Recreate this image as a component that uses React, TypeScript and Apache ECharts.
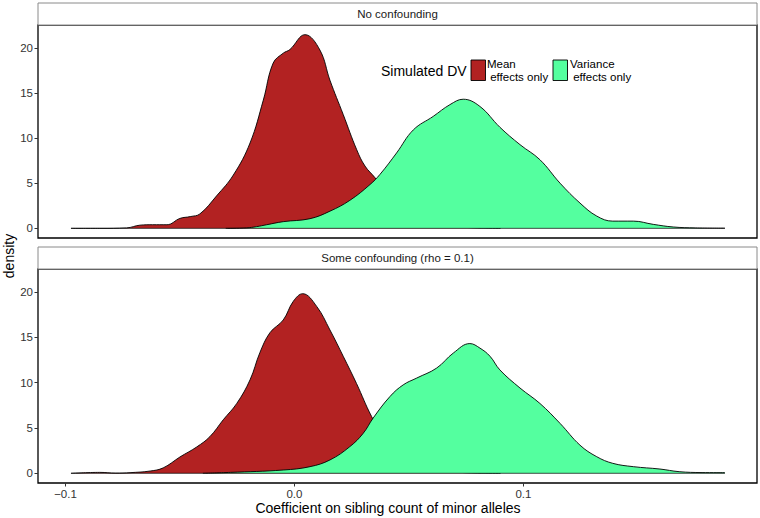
import React, { useEffect, useRef } from "react";
import * as echarts from "echarts";

// ---------- data ----------
const panelTitles = ["No confounding", "Some confounding (rho = 0.1)"];
const groupLabels = ["Mean\n effects only", "Variance\n effects only"];
const legendTitle = "Simulated DV";
const xTicks = [-0.1, 0.0, 0.1];
const yTicks = [0, 5, 10, 15, 20];

// Panel 1: No confounding
const meanTopX = [-0.0976, -0.085, -0.0733, -0.0675, -0.062, -0.0557, -0.05, -0.0455, -0.0413, -0.034, -0.0267, -0.0194, -0.0136, -0.0093, -0.0049, -0.002, 0.0046, 0.0111, 0.0155, 0.0213, 0.0272, 0.0308, 0.0352, 0.04, 0.05, 0.06, 0.07, 0.08, 0.09];
const meanTopD = [0, 0.0, 0.05, 0.35, 0.4, 0.4, 1.1, 1.3, 1.6, 3.6, 5.9, 9.45, 14.2, 18.3, 19.4, 19.8, 21.45, 19.75, 16.4, 12.6, 8.7, 6.9, 5.6, 4.0, 1.8, 0.6, 0.2, 0.05, 0];
const varTopX = [-0.03, -0.021, -0.0165, -0.0121, -0.0049, 0.0068, 0.0155, 0.0242, 0.033, 0.0373, 0.0446, 0.0519, 0.0606, 0.0679, 0.0737, 0.081, 0.0897, 0.0985, 0.1072, 0.116, 0.1247, 0.132, 0.139, 0.148, 0.1567, 0.1654, 0.175, 0.188];
const varTopD = [0, 0.05, 0.19, 0.4, 0.74, 1.07, 1.9, 3.1, 4.85, 5.96, 8.35, 10.9, 12.4, 13.7, 14.3, 13.5, 11.2, 9.27, 7.6, 5.0, 2.8, 1.36, 0.8, 0.8, 0.44, 0.15, 0.05, 0.02];

// Panel 2: Some confounding (rho = 0.1)
const meanBotX = [-0.0976, -0.085, -0.078, -0.0718, -0.063, -0.0573, -0.05, -0.0427, -0.0369, -0.0311, -0.0252, -0.0194, -0.0151, -0.0107, -0.0049, -0.0005, 0.0036, 0.0097, 0.0155, 0.0213, 0.0271, 0.0337, 0.04, 0.05, 0.06, 0.07, 0.08, 0.09];
const meanBotD = [0, 0.1, 0.02, 0.07, 0.25, 0.6, 1.8, 2.9, 4.05, 5.9, 7.7, 10.3, 13.3, 15.5, 16.9, 18.96, 19.8, 18.4, 15.8, 12.9, 9.9, 6.25, 3.6, 1.5, 0.5, 0.15, 0.03, 0];
const varBotX = [-0.04, -0.028, -0.0049, 0.0068, 0.0155, 0.0242, 0.03, 0.0344, 0.0417, 0.0475, 0.0534, 0.0621, 0.0694, 0.0766, 0.081, 0.0854, 0.0897, 0.0985, 0.1072, 0.116, 0.1247, 0.132, 0.139, 0.148, 0.1596, 0.168, 0.178, 0.188];
const varBotD = [0, 0.1, 0.36, 0.73, 1.47, 2.94, 4.4, 6.1, 8.46, 9.75, 10.5, 11.6, 13.26, 14.3, 13.8, 12.9, 11.4, 9.4, 7.7, 5.5, 3.1, 1.83, 1.1, 0.73, 0.47, 0.18, 0.08, 0.07];

// ---------- styles ----------
const FONT = "'Liberation Sans', Helvetica, Arial, sans-serif";
const RED = "#B22222";
const GREEN = "#54FF9F";
const X_MIN = -0.112;
const X_MAX = 0.202;
const Y_MIN = -1.07;
const Y_MAX = 22.52;

const pairs = (xs: number[], ds: number[]) => xs.map((x, i) => [x, ds[i]]);
const fmtX = (v: number) => {
  const s = Math.abs(v).toFixed(1);
  return v < -1e-9 ? "\u2212" + s : s;
};

const grids = [
  { left: 38, top: 25, width: 719, height: 213 },
  { left: 38, top: 269, width: 719, height: 214 },
];

function buildOption() {
  const panelData = [
    [pairs(meanTopX, meanTopD), pairs(varTopX, varTopD)],
    [pairs(meanBotX, meanBotD), pairs(varBotX, varBotD)],
  ];
  const baseRanges = [
    [meanTopX[0], varTopX[varTopX.length - 1]],
    [meanBotX[0], varBotX[varBotX.length - 1]],
  ];
  const series: any[] = [];
  panelData.forEach((groups, p) => {
    groups.forEach((data, g) => {
      series.push({
        type: "line",
        name: groupLabels[g],
        xAxisIndex: p,
        yAxisIndex: p,
        data,
        smooth: 0.4,
        showSymbol: false,
        symbol: "none",
        lineStyle: { color: "#000", width: 0.9 },
        areaStyle: { color: g === 0 ? RED : GREEN, opacity: 1 },
        z: 2 + g,
      });
    });
    series.push({
      type: "line",
      xAxisIndex: p,
      yAxisIndex: p,
      data: baseRanges[p].map((x) => [x, 0]),
      showSymbol: false,
      symbol: "none",
      lineStyle: { color: "#000", width: 0.7 },
      z: 5,
      silent: true,
    });
  });

  const xAxis = grids.map((_, i) => ({
    type: "value",
    gridIndex: i,
    position: "bottom",
    min: X_MIN,
    max: X_MAX,
    axisLine: { show: false, onZero: false },
    splitLine: { show: false },
    axisTick: {
      show: i === 1,
      customValues: xTicks,
      length: 3.5,
      lineStyle: { color: "#333", width: 1 },
    },
    axisLabel: {
      show: i === 1,
      customValues: xTicks,
      formatter: (v: number) => fmtX(v),
      fontFamily: FONT,
      fontSize: 11.5,
      color: "#333",
      margin: 5,
    },
  }));

  const yAxis = grids.map((_, i) => ({
    type: "value",
    gridIndex: i,
    position: "left",
    min: Y_MIN,
    max: Y_MAX,
    axisLine: { show: false, onZero: false },
    splitLine: { show: false },
    axisTick: {
      show: true,
      customValues: yTicks,
      length: 3.5,
      lineStyle: { color: "#333", width: 1 },
    },
    axisLabel: {
      customValues: yTicks,
      fontFamily: FONT,
      fontSize: 11.5,
      color: "#333",
      margin: 5,
    },
  }));

  const graphic: any[] = [];
  grids.forEach((g, i) => {
    graphic.push({
      type: "rect",
      shape: { x: g.left, y: g.top - 22, width: g.width, height: 22 },
      style: { fill: "#fff", stroke: "#8a8a8a", lineWidth: 1 },
      z: 10,
    });
    graphic.push({
      type: "text",
      x: g.left + g.width / 2,
      y: g.top - 11,
      style: {
        text: panelTitles[i],
        fontFamily: FONT,
        fontSize: 11.5,
        fill: "#1a1a1a",
        align: "center",
        verticalAlign: "middle",
      },
      z: 11,
    });
  });

  // y-axis title
  graphic.push({
    type: "text",
    x: 9,
    y: 256,
    rotation: Math.PI / 2,
    style: {
      text: "density",
      fontFamily: FONT,
      fontSize: 14,
      fill: "#000",
      align: "center",
      verticalAlign: "middle",
    },
  });
  // x-axis title
  graphic.push({
    type: "text",
    x: 388,
    y: 508,
    style: {
      text: "Coefficient on sibling count of minor alleles",
      fontFamily: FONT,
      fontSize: 14,
      fill: "#000",
      align: "center",
      verticalAlign: "middle",
    },
  });

  // legend
  graphic.push({
    type: "text",
    x: 381,
    y: 71,
    style: {
      text: legendTitle,
      fontFamily: FONT,
      fontSize: 14,
      fill: "#000",
      align: "left",
      verticalAlign: "middle",
    },
    z: 20,
  });
  const keys = [
    { x: 471, color: RED, tx: 487 },
    { x: 553, color: GREEN, tx: 570 },
  ];
  keys.forEach((k, i) => {
    graphic.push({
      type: "rect",
      shape: { x: k.x, y: 60, width: 14.5, height: 20.5 },
      style: { fill: k.color, stroke: "#000", lineWidth: 0.9 },
      z: 20,
    });
    graphic.push({
      type: "text",
      x: k.tx,
      y: 57.5,
      style: {
        text: groupLabels[i],
        fontFamily: FONT,
        fontSize: 11.5,
        lineHeight: 13,
        fill: "#000",
        align: "left",
        verticalAlign: "top",
      },
      z: 20,
    });
  });

  return {
    animation: false,
    backgroundColor: "#fff",
    grid: grids.map((g) => ({
      ...g,
      show: true,
      borderColor: "#000",
      borderWidth: 1.3,
      backgroundColor: "transparent",
    })),
    xAxis,
    yAxis,
    series,
    graphic,
  };
}

export default function App() {
  const ref = useRef<HTMLDivElement>(null);
  useEffect(() => {
    if (!ref.current) return;
    const chart = echarts.init(ref.current, null, { renderer: "svg" });
    chart.setOption(buildOption() as any);
    return () => chart.dispose();
  }, []);
  return (
    <div
      ref={ref}
      style={{ position: "absolute", left: 0, top: 0, width: 760, height: 518 }}
    />
  );
}
